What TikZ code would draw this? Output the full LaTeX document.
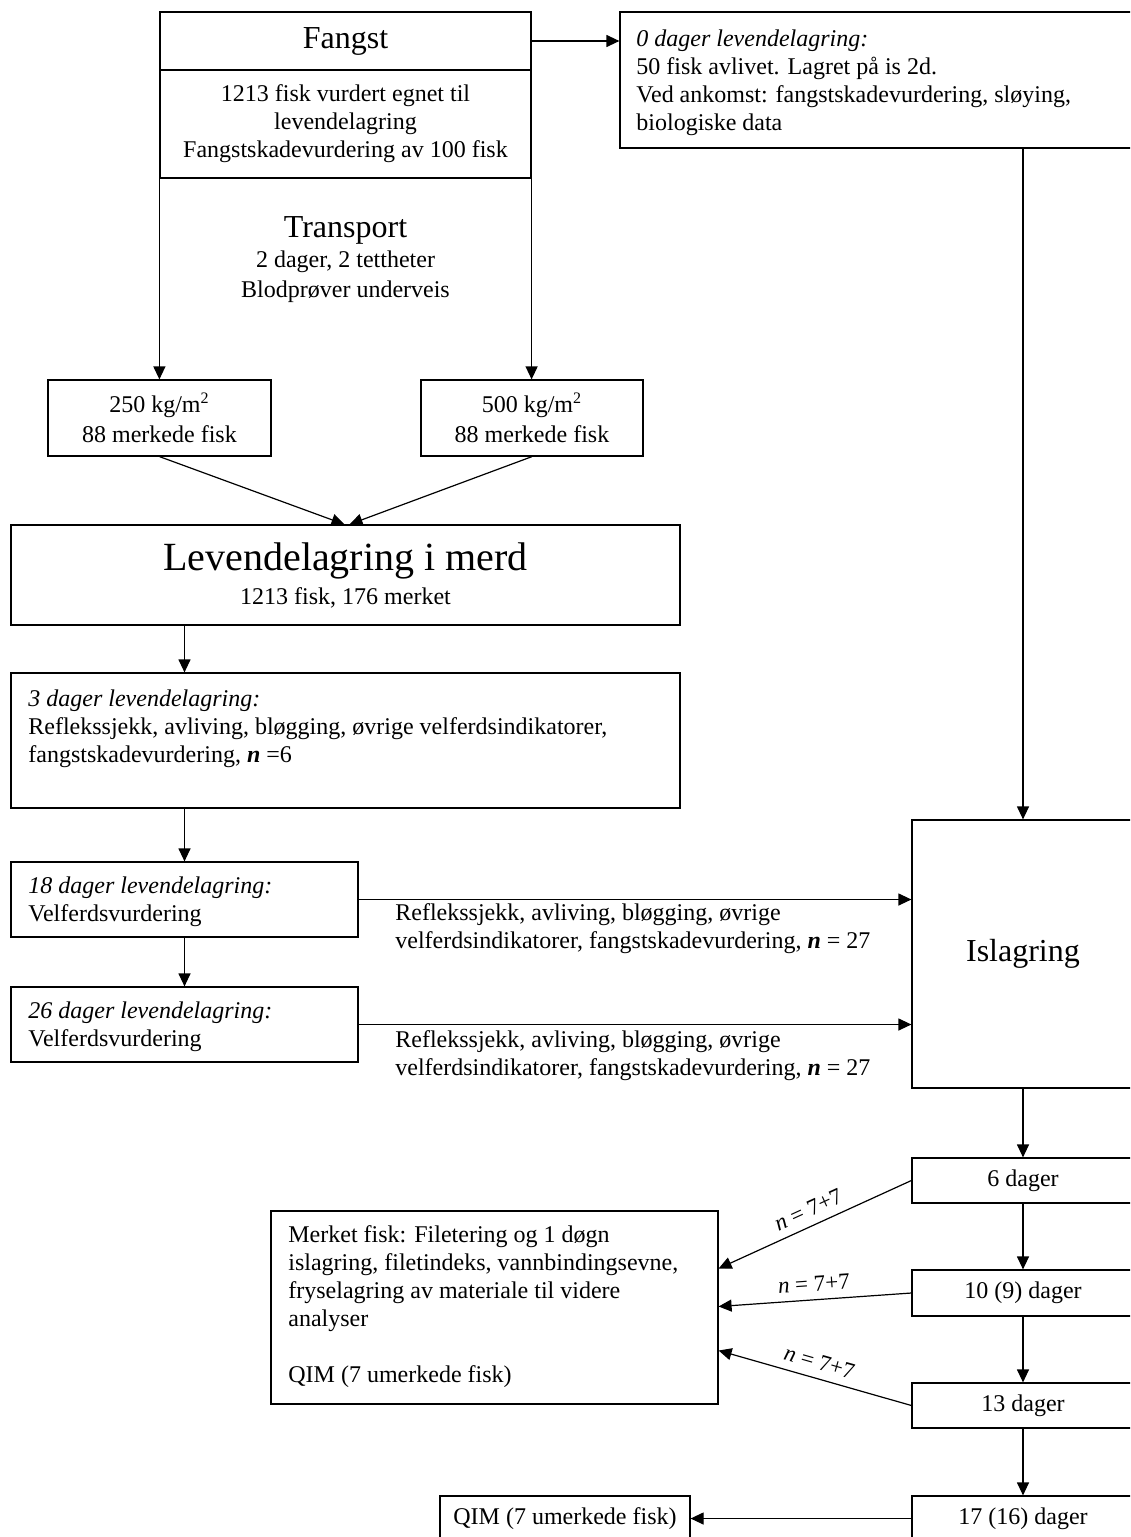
\documentclass[tikz,border=0pt]{standalone}
\usepackage{fontspec}
\setmainfont{Liberation Serif}
\usetikzlibrary{
    positioning,      % For placing nodes relative to each other
    arrows.meta,      % For modern arrow tips
    calc              % For coordinate calculations
}

\begin{document}
\begin{tikzpicture}[
    % Global style settings (one unit = one pixel of the sheet)
    x=0.5pt, y=-0.5pt,
    font=\fontsize{12}{14}\selectfont,
    line_style/.style={
        line width=0.6pt
    },
    box_style/.style={ % Plain framed box
        line_style,
        draw,
        rectangle,
        inner sep=0pt,
        align=center
    },
    box_size/.style 2 args={ % Width and height in pixels
        minimum width=#1*0.5pt,
        minimum height=#2*0.5pt
    },
    arrow_tip/.style={
        line_style,
        -{Triangle[length=6.5pt, width=6pt]}
    },
    text_style/.style={ % Left aligned text inside a box
        inner sep=0pt,
        align=left,
        anchor=north west
    },
    head_style/.style={ % Larger headings
        font=\fontsize{16}{18}\selectfont
    },
    n_style/.style={ % Sloped labels on the filleting arrows
        font=\fontsize{11.5}{13}\selectfont,
        sloped,
        above,
        inner sep=4pt
    }
]
    \useasboundingbox (0,0) rectangle (1130,1537);
    \clip (0,0) rectangle (1130,1537);

    % 1. Catch and transport.
    \node[box_style, head_style, box_size={371}{58}] (fangst) at (345.5,41) {Fangst};
    \node[box_style, box_size={371}{108}] (fangstinfo) at (345.5,124) {1213 fisk vurdert egnet til\\levendelagring\\Fangstskadevurdering av 100 fisk};
    \node[align=center, inner sep=0pt] (transport) at (345.5,260) {{\fontsize{16}{18}\selectfont Transport}\\[1pt]2 dager, 2 tettheter\\[1pt]Blodprøver underveis};

    % 2. The two densities and the net pen.
    \node[box_style, box_size={223}{76}] (tett250) at (159.5,418) {250 kg/m\textsuperscript{2}\\[1pt]88 merkede fisk};
    \node[box_style, box_size={222}{76}] (tett500) at (532,418) {500 kg/m\textsuperscript{2}\\[1pt]88 merkede fisk};
    \node[box_style, box_size={669}{100}] (merd) at (345.5,575) {{\fontsize{20}{24}\selectfont Levendelagring i merd}\\[3pt]1213 fisk, 176 merket};

    % 3. Boxes for each storage time.
    \node[box_style, box_size={520}{136}] (dag0) at (880,80) {};
    \node[text_style] at (636,29) (dag0text) {\textit{0 dager levendelagring:}\\50 fisk avlivet. Lagret på is 2d.\\Ved ankomst: fangstskadevurdering, sløying,\\biologiske data};

    \node[box_style, box_size={669}{135}] (dag3) at (345.5,740.5) {};
    \node[text_style] at (28,689) (dag3text) {\textit{3 dager levendelagring:}\\Reflekssjekk, avliving, bløgging, øvrige velferdsindikatorer,\\fangstskadevurdering, \textbf{\textit{n}} =6};

    \node[box_style, box_size={347}{75}] (dag18) at (184.5,899.5) {};
    \node[text_style] at (28,876) (dag18text) {\textit{18 dager levendelagring:}\\Velferdsvurdering};

    \node[box_style, box_size={347}{75}] (dag26) at (184.5,1024.5) {};
    \node[text_style] at (28,1001) (dag26text) {\textit{26 dager levendelagring:}\\Velferdsvurdering};

    % 4. Ice storage and its days.
    \node[box_style, head_style, box_size={222}{268}] (islag) at (1023,954) {Islagring};
    \node[box_style, box_size={222}{45}] (is6) at (1023,1180.5) {6 dager};
    \node[box_style, box_size={222}{46}] (is10) at (1023,1293) {10 (9) dager};
    \node[box_style, box_size={222}{45}] (is13) at (1023,1405.5) {13 dager};
    \node[box_style, box_size={222}{45}] (is17) at (1023,1518.5) {17 (16) dager};

    \node[box_style, box_size={447}{193}] (filet) at (494.5,1307.5) {};
    \node[text_style] at (288,1225) (filettext) {Merket fisk: Filetering og 1 døgn\\islagring, filetindeks, vannbindingsevne,\\fryselagring av materiale til videre\\analyser\\[14pt]QIM (7 umerkede fisk)};
    \node[box_style, box_size={250}{45}] (qim) at (565,1518.5) {QIM (7 umerkede fisk)};

    % 5. Arrows down the left column.
    \draw[arrow_tip] (fangst.east) -- (fangst.east -| dag0.west);
    \draw[arrow_tip] (fangstinfo.south west) -- (fangstinfo.south west |- tett250.north);
    \draw[arrow_tip] (fangstinfo.south east) -- (fangstinfo.south east |- tett500.north);
    \draw[arrow_tip] (tett250.south) -- ($(merd.north)+(-1,0)$);
    \draw[arrow_tip] (tett500.south) -- ($(merd.north)+(4,0)$);
    \draw[arrow_tip] (merd.south -| dag18.south) -- (dag3.north -| dag18.south);
    \draw[arrow_tip] (dag3.south -| dag18.south) -- (dag18.north);
    \draw[arrow_tip] (dag18.south) -- (dag26.north);

    % 6. Arrows into the ice storage, with their texts.
    \draw[arrow_tip] (islag.north |- dag0.south) -- (islag.north);
    \draw[arrow_tip] (dag18.east) -- (dag18.east -| islag.west);
    \node[text_style] at (395,903) (prove18) {Reflekssjekk, avliving, bløgging, øvrige\\velferdsindikatorer, fangstskadevurdering, \textbf{\textit{n}} = 27};
    \draw[arrow_tip] (dag26.east) -- (dag26.east -| islag.west);
    \node[text_style] at (395,1030) (prove26) {Reflekssjekk, avliving, bløgging, øvrige\\velferdsindikatorer, fangstskadevurdering, \textbf{\textit{n}} = 27};

    % 7. Down the right column and out to the analyses.
    \draw[arrow_tip] (islag.south) -- (is6.north);
    \draw[arrow_tip] (is6.south) -- (is10.north);
    \draw[arrow_tip] (is10.south) -- (is13.north);
    \draw[arrow_tip] (is13.south) -- (is17.north);

    \draw[arrow_tip] (is6.west) -- node[n_style] {\textit{n} = 7+7} ($(filet.east)+(0,-39)$);
    \draw[arrow_tip] (is10.west) -- node[n_style] {\textit{n} = 7+7} ($(filet.east)+(0,-1)$);
    \draw[arrow_tip] (is13.west) -- node[n_style] {\textit{n} = 7+7} ($(filet.east)+(0,43)$);
    \draw[arrow_tip] (is17.west) -- (qim.east);

\end{tikzpicture}
\end{document}
